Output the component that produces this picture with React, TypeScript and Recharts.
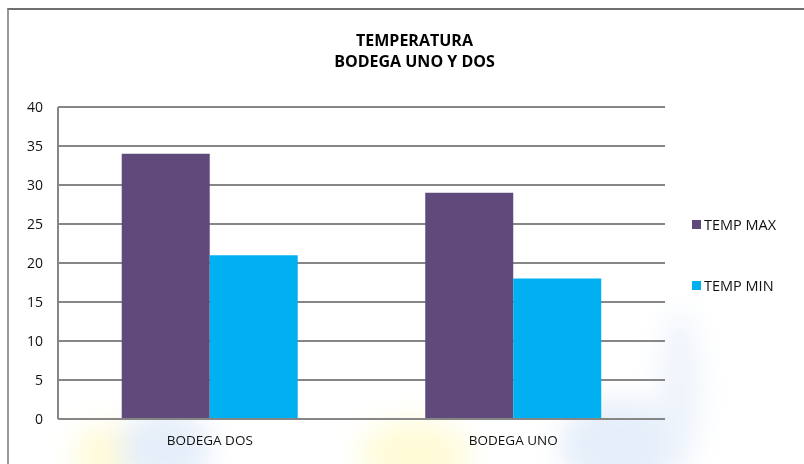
import React from 'react';
import {
  BarChart,
  Bar,
  XAxis,
  YAxis,
  CartesianGrid,
  Legend,
} from 'recharts';

const bodegas = ['BODEGA DOS', 'BODEGA UNO'];
const tempMax = [34, 29];
const tempMin = [21, 18];
const yTicks = [0, 5, 10, 15, 20, 25, 30, 35, 40];

const data = bodegas.map((name, i) => ({
  name,
  max: tempMax[i],
  min: tempMin[i],
}));

const FONT = '"Open Sans", Lato, sans-serif';
const GRID = '#868686';

function LegendBox() {
  const items = [
    { label: 'TEMP MAX', color: '#604a7b' },
    { label: 'TEMP MIN', color: '#00b0f0' },
  ];
  return (
    <div style={{ fontFamily: FONT, fontSize: 14.5, color: '#111' }}>
      {items.map((it, i) => (
        <div
          key={it.label}
          style={{ display: 'flex', alignItems: 'center', height: 18, marginBottom: i === 0 ? 43 : 0 }}
        >
          <span style={{ width: 9, height: 9, background: it.color, marginRight: 3 }} />
          {it.label}
        </div>
      ))}
    </div>
  );
}

export default function App() {
  return (
    <div
      style={{
        position: 'fixed',
        left: 0,
        top: 0,
        width: 804,
        height: 464,
        background: '#fff',
        overflow: 'hidden',
      }}
    >
      {/* faint watermark behind the frame */}
      <div style={{ position: 'absolute', inset: 0, filter: 'blur(14px)', opacity: 0.3 }}>
        <div style={{ position: 'absolute', left: 75, top: 425, width: 60, height: 60, borderRadius: '50%', background: '#fff27a' }} />
        <div style={{ position: 'absolute', left: 120, top: 410, width: 90, height: 80, borderRadius: '50%', background: '#a9c6ee' }} />
        <div style={{ position: 'absolute', left: 360, top: 420, width: 110, height: 70, borderRadius: '50%', background: '#fff27a' }} />
        <div style={{ position: 'absolute', left: 560, top: 400, width: 120, height: 90, borderRadius: '50%', background: '#a9c6ee' }} />
        <div style={{ position: 'absolute', left: 660, top: 310, width: 40, height: 160, borderRadius: '50%', background: '#c5d8f3' }} />
      </div>
      <div
        style={{
          position: 'absolute',
          left: 7,
          top: 8,
          width: 820,
          height: 480,
          borderTop: '2px solid #6e6e6e',
          borderLeft: '2px solid #9a9a9a',
        }}
      />
      <div
        style={{
          position: 'absolute',
          left: 0,
          top: 30,
          width: 829,
          textAlign: 'center',
          fontFamily: FONT,
          fontWeight: 700,
          fontSize: 16,
          lineHeight: '21px',
          color: '#000',
        }}
      >
        TEMPERATURA
        <br />
        BODEGA UNO Y DOS
      </div>
      <div style={{ position: 'absolute', left: 0, top: 0 }}>
        <BarChart
          width={804}
          height={464}
          data={data}
          margin={{ top: 107, right: 29, bottom: 0, left: 8 }}
          barCategoryGap="21%"
          barGap={0}
        >
          <CartesianGrid vertical={false} stroke={GRID} strokeWidth={2} />
          <XAxis
            dataKey="name"
            height={45}
            axisLine={{ stroke: GRID, strokeWidth: 2 }}
            tickLine={false}
            tickMargin={10}
            tick={{ fontFamily: FONT, fontSize: 13.5, fill: '#111' }}
          />
          <YAxis
            width={50}
            domain={[0, 40]}
            ticks={yTicks}
            interval={0}
            axisLine={{ stroke: GRID, strokeWidth: 2 }}
            tickLine={false}
            tickMargin={9}
            tick={{ fontFamily: FONT, fontSize: 14, fill: '#111' }}
          />
          <Legend
            layout="vertical"
            align="right"
            verticalAlign="top"
            content={<LegendBox />}
            wrapperStyle={{ left: 692, top: 215, width: 110 }}
          />
          <Bar dataKey="max" name="TEMP MAX" fill="#604a7b" isAnimationActive={false} />
          <Bar dataKey="min" name="TEMP MIN" fill="#00b0f0" isAnimationActive={false} />
        </BarChart>
      </div>
    </div>
  );
}
